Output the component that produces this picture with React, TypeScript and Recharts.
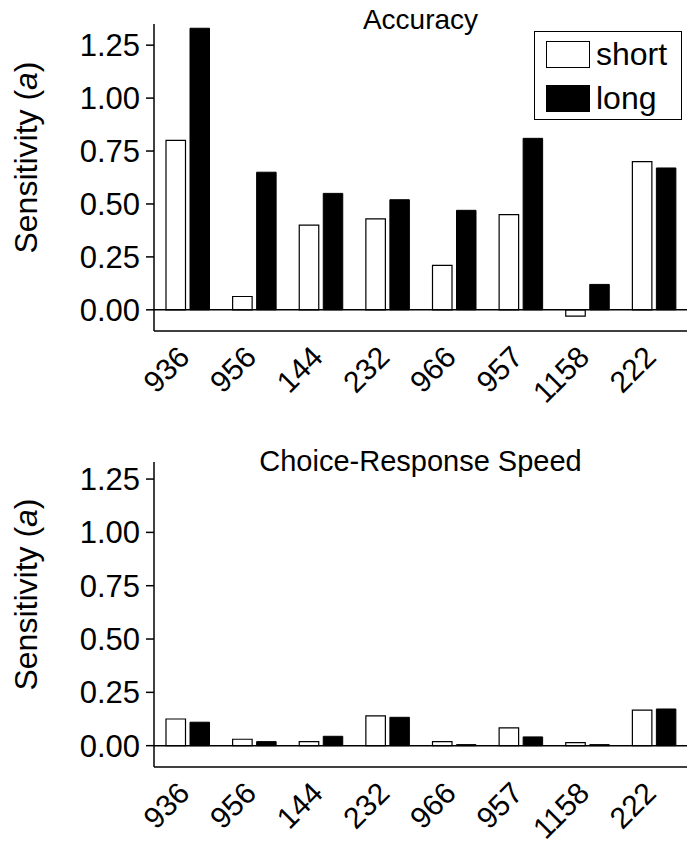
import React from 'react';
import { BarChart, Bar, XAxis, YAxis, ReferenceLine, Legend } from 'recharts';

const subjects = ['936', '956', '144', '232', '966', '957', '1158', '222'];
const accuracyShort = [0.8, 0.063, 0.4, 0.43, 0.21, 0.45, -0.03, 0.7];
const accuracyLong = [1.33, 0.65, 0.55, 0.52, 0.47, 0.81, 0.12, 0.67];
const speedShort = [0.125, 0.03, 0.019, 0.14, 0.019, 0.083, 0.014, 0.167];
const speedLong = [0.11, 0.019, 0.044, 0.133, 0.005, 0.041, 0.005, 0.172];
const yTicks = [0, 0.25, 0.5, 0.75, 1.0, 1.25];
const seriesNames = ['short', 'long'];
const panelTitles = ['Accuracy', 'Choice-Response Speed'];

const FONT = '"Liberation Sans", Arial, Helvetica, sans-serif';

const buildRows = (a: number[], b: number[]) =>
  subjects.map((s, i) => ({ subject: s, short: a[i], long: b[i] }));

const accuracyData = buildRows(accuracyShort, accuracyLong);
const speedData = buildRows(speedShort, speedLong);

const XTick = (props: any) => {
  const { x, y, payload } = props;
  return (
    <g transform={`translate(${x + 4},${y + 28})`}>
      <text
        x={0}
        y={0}
        textAnchor="end"
        transform="rotate(-45)"
        fontSize={30}
        fontFamily={FONT}
        fill="#000"
      >
        {payload.value}
      </text>
    </g>
  );
};

const YLabel = (props: any) => {
  const { viewBox } = props;
  const cx = viewBox.x + 26;
  const cy = viewBox.y + viewBox.height / 2 - 20;
  return (
    <text
      transform={`translate(${cx},${cy}) rotate(-90)`}
      textAnchor="middle"
      dominantBaseline="central"
      fontSize={32}
      fontFamily={FONT}
      fill="#000"
    >
      Sensitivity (<tspan fontStyle="italic">a</tspan>)
    </text>
  );
};

const LegendBox = (props: any) => {
  const payload = props.payload || [];
  const entries = seriesNames
    .map((n) => payload.find((p: any) => p.value === n))
    .filter(Boolean);
  return (
    <div
      style={{
        border: '1.5px solid #000',
        width: 146,
        height: 87,
        boxSizing: 'content-box',
        background: '#fff',
        fontFamily: FONT,
      }}
    >
      {entries.map((entry: any) => (
        <div
          key={entry.value}
          style={{ display: 'flex', alignItems: 'center', height: 44, paddingLeft: 11 }}
        >
          <div
            style={{
              width: 42,
              height: 25,
              border: '1.5px solid #000',
              background: entry.value === 'short' ? '#fff' : '#000',
            }}
          />
          <span style={{ marginLeft: 6, fontSize: 32, lineHeight: '32px', color: '#000' }}>
            {entry.value}
          </span>
        </div>
      ))}
    </div>
  );
};

type PanelProps = {
  data: any[];
  title: string;
  titleSize: number;
  domainMax: number;
  marginTop: number;
  marginBottom: number;
  titleTop: number;
  showLegend: boolean;
};

const Panel = ({ data, title, titleSize, domainMax, marginTop, marginBottom, titleTop, showLegend }: PanelProps) => (
  <div style={{ position: 'relative', width: 697, height: 425 }}>
    <BarChart
      width={697}
      height={425}
      data={data}
      margin={{ top: marginTop, right: 10, bottom: marginBottom, left: 0 }}
      barSize={19.5}
      barGap={4.5}
    >
      <XAxis
        dataKey="subject"
        height={80}
        tickLine={false}
        tickSize={0}
        tickMargin={0}
        interval={0}
        tick={<XTick />}
        axisLine={{ stroke: '#000', strokeWidth: 1.5 }}
      />
      <YAxis
        width={154}
        domain={[-0.1, domainMax]}
        ticks={yTicks}
        allowDataOverflow
        tickFormatter={(v: number) => v.toFixed(2)}
        tickSize={8}
        tickMargin={6}
        tick={{ fontSize: 31, fontFamily: FONT, fill: '#000' }}
        tickLine={{ stroke: '#000', strokeWidth: 1.5 }}
        axisLine={{ stroke: '#000', strokeWidth: 1.5 }}
        label={<YLabel />}
      />
      <ReferenceLine y={0} stroke="#000" strokeWidth={1.5} />
      {showLegend && (
        <Legend
          layout="horizontal"
          verticalAlign="middle"
          align="center"
          content={<LegendBox />}
          wrapperStyle={{ position: 'absolute', left: 534, top: 31, width: 150, height: 91 }}
        />
      )}
      <Bar dataKey={seriesNames[0]} name={seriesNames[0]} fill="#fff" stroke="#000" strokeWidth={1.2} isAnimationActive={false} />
      <Bar dataKey={seriesNames[1]} name={seriesNames[1]} fill="#000" stroke="#000" strokeWidth={1} isAnimationActive={false} />
    </BarChart>
    <div
      style={{
        position: 'absolute',
        left: 154,
        width: 533,
        top: titleTop,
        textAlign: 'center',
        fontFamily: FONT,
        fontSize: titleSize,
        lineHeight: `${titleSize}px`,
        color: '#000',
        pointerEvents: 'none',
      }}
    >
      {title}
    </div>
  </div>
);

export default function App() {
  return (
    <div style={{ position: 'absolute', left: 0, top: 0, width: 697, height: 850, background: '#fff' }}>
      <Panel
        data={accuracyData}
        title={panelTitles[0]}
        titleSize={28}
        domainMax={1.35}
        marginTop={24}
        marginBottom={14}
        titleTop={6}
        showLegend={true}
      />
      <Panel
        data={speedData}
        title={panelTitles[1]}
        titleSize={29}
        domainMax={1.33}
        marginTop={37}
        marginBottom={3}
        titleTop={22}
        showLegend={false}
      />
    </div>
  );
}
